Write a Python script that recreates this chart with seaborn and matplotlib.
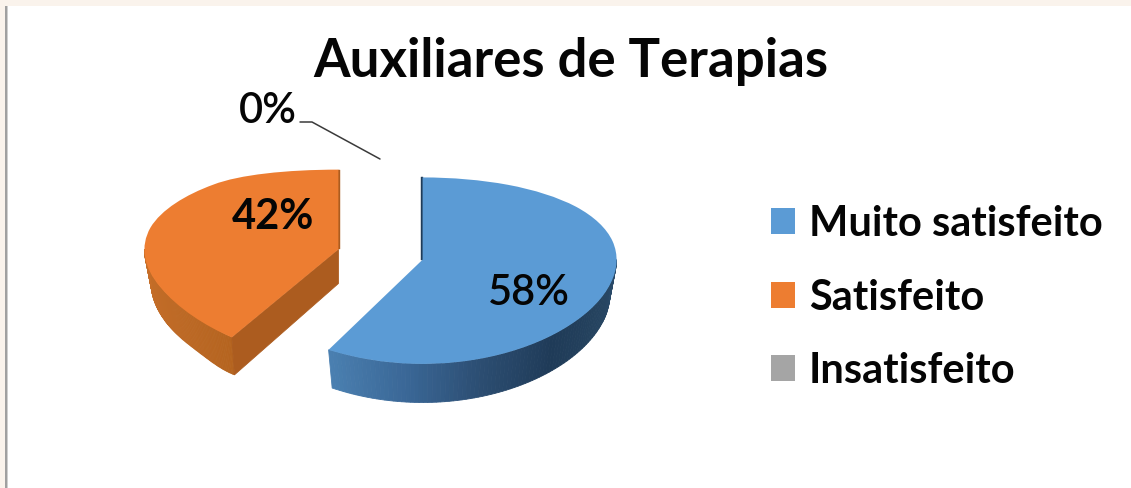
import numpy as np
import matplotlib
matplotlib.use("Agg")
import matplotlib.pyplot as plt
from matplotlib.lines import Line2D
from matplotlib.patches import Rectangle
import seaborn as sns

# ---- data ----
title = "Auxiliares de Terapias"
categories = ["Muito satisfeito", "Satisfeito", "Insatisfeito"]
values = [58, 42, 0]

# ---- style ----
colors = ["#5B9BD5", "#ED7D31", "#A5A5A5"]
blue_side = ["#4A7FB0", "#3A6796", "#2B4C70", "#1F3B58", "#25435F", "#2A4A68"]
orange_side = ["#C66E28", "#BE6A26", "#B5641F"]
orange_cut = "#AC5C1F"
W, H = 1131, 488

sns.set_theme(style="white")
plt.rcParams["font.family"] = ["Lato", "DejaVu Sans"]

fig = plt.figure(figsize=(W / 100, H / 100), dpi=100, facecolor="white")

# Pie axes: both axes use a mild perspective curve (nearer = larger)
RX = 194.0
CX, CY = 380.5, 254.5
A, B = 92.0, 11.0
def fwd(y):
    y = np.asarray(y, dtype=float)
    return A * y - B * y * y
def inv(v):
    v = np.asarray(v, dtype=float)
    return (A - np.sqrt(np.maximum(A * A - 4 * B * v, 0))) / (2 * B)

BUMP_L, BUMP_R, BUMP_C = -1.0, -0.217, 15.0 / RX
def xfwd(x):
    x = np.asarray(x, dtype=float)
    u = np.clip((x - BUMP_L) / (BUMP_R - BUMP_L), 0, 1)
    return x - BUMP_C * np.sin(np.pi * u) ** 2
_grid = np.linspace(-6, 6, 24001)
_gridf = xfwd(_grid)
def xinv(v):
    return np.interp(np.asarray(v, dtype=float), _gridf, _grid)

top_px, bot_px = 120.0, 440.0
ax = fig.add_axes([0, 1 - bot_px / H, 1, (bot_px - top_px) / H])
EXPLODE = 0.224
DEPTH = 0.36
SHRINK = 0.965

shares = np.array(values, dtype=float) / sum(values)
edges = 90 - 360 * np.concatenate([[0], np.cumsum(shares)])
mids = np.radians((edges[:-1] + edges[1:]) / 2)
centers = [(EXPLODE * np.cos(m), EXPLODE * np.sin(m)) for m in mids]

def rim(c, deg, r=1.0, dy=0.0):
    t = np.radians(deg)
    return c[0] + r * np.cos(t), c[1] + r * np.sin(t) - dy

def side(c, a0, a1, stops, z):
    n = 90
    angs = np.linspace(a0, a1, n + 1)
    pal = sns.blend_palette(stops, n_colors=n)
    for i in range(n):
        x0, y0 = rim(c, angs[i])
        x1, y1 = rim(c, angs[i + 1])
        x2, y2 = rim(c, angs[i + 1], SHRINK, DEPTH)
        x3, y3 = rim(c, angs[i], SHRINK, DEPTH)
        ax.fill([x0, x1, x2, x3], [y0, y1, y2, y3], color=pal[i], lw=0.6, zorder=z)

def sliver(c, deg, dx, color):
    x, y = rim(c, deg)
    ax.fill([c[0], x, x + dx, c[0] + dx], [c[1], y, y, c[1]], color=color, lw=0.3, zorder=1)

# Blue: outer side from the cut edge round to the right-hand rim
side(centers[0], edges[1], 0, blue_side, 1)
sliver(centers[0], edges[0], -0.01, "#1F3B58")

# Orange: flat cut face, then the outer side
c = centers[1]
xr, yr = rim(c, edges[1])
xb, yb = rim(c, edges[1], SHRINK, DEPTH)
ax.fill([c[0], xr, xb, c[0]], [c[1], yr, yb, c[1] - DEPTH], color=orange_cut, lw=0.6, zorder=2)
side(c, edges[1], -180, orange_side[::-1], 1)
sliver(c, edges[2], 0.007, orange_cut)

wedges, _ = ax.pie(values, explode=[EXPLODE] * 3, colors=colors, startangle=90,
                   counterclock=False, radius=1.0, center=(0, 0),
                   wedgeprops=dict(zorder=5, linewidth=0))
ax.set_aspect("auto")
ax.set_xscale("function", functions=(xfwd, xinv))
ax.set_xlim(-CX / RX, (W - CX) / RX)
ax.set_yscale("function", functions=(fwd, inv))
ax.set_ylim(float(inv(CY - bot_px)), float(inv(CY - top_px)))
ax.axis("off")

def ftext(px, py, s, **kw):
    fig.text(px / W, 1 - py / H, s, ha="center", va="center", color="#050505", **kw)

ftext(571, 62, title, fontsize=38, fontweight="bold")
ftext(273, 217, f"{values[1]}%", fontsize=30, fontweight="bold")
ftext(529, 293, f"{values[0]}%", fontsize=30, fontweight="semibold")
ftext(268, 111, f"{values[2]}%", fontsize=30, fontweight="semibold")

# Leader line of the 0% label
fig.add_artist(Line2D(np.array([300, 312, 380]) / W, 1 - np.array([122, 122, 159]) / H,
                      color="#3a3a3a", lw=1.1))

# Legend
fs = 30
em = fs * 100 / 72
leg = ax.legend(wedges, categories, loc="center left", frameon=False,
                bbox_to_anchor=(771 / W, 1 - (297.5 - top_px) / (bot_px - top_px)),
                bbox_transform=ax.transAxes, borderpad=0, borderaxespad=0,
                handlelength=24 / em, handleheight=24 / em,
                handletextpad=14 / em, labelspacing=0.85, labelcolor="#050505",
                prop=dict(family=["Lato", "DejaVu Sans"], weight="bold", size=fs))

# Screenshot frame remains
for (x0, y0, x1, y1, col) in [(0, 0, W, 6, "#FAF3EC"), (0, 0, 5, H, "#FAF3EC"),
                              (5, 6, 6.5, H, "#A0A0A0"), (6.5, 6, 8, H, "#CFCFCF")]:
    fig.add_artist(Rectangle((x0 / W, 1 - y1 / H), (x1 - x0) / W, (y1 - y0) / H,
                             transform=fig.transFigure, facecolor=col, edgecolor="none"))

fig.savefig("out.png", dpi=100, facecolor="white")
